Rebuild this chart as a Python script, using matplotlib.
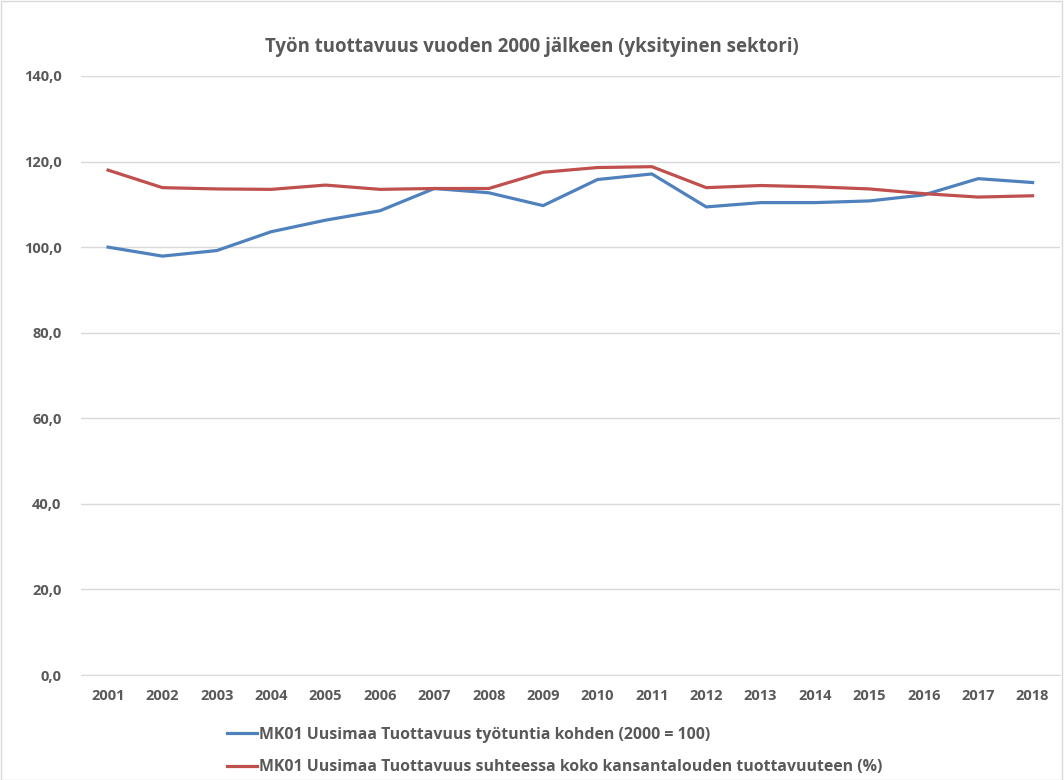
import matplotlib
matplotlib.use("Agg")
import matplotlib.pyplot as plt
from matplotlib.patches import Rectangle

plt.rcParams['font.family'] = ['Open Sans', 'DejaVu Sans']

years = [str(y) for y in range(2001, 2019)]
per_hour = [100.0, 97.9, 99.2, 103.6, 106.3, 108.5, 113.7, 112.7, 109.7,
            115.8, 117.1, 109.4, 110.4, 110.4, 110.8, 112.2, 116.0, 115.1]
vs_national = [118.0, 113.9, 113.6, 113.5, 114.5, 113.5, 113.7, 113.7, 117.5,
               118.6, 118.8, 113.9, 114.4, 114.1, 113.6, 112.5, 111.7, 112.0]
labels = ["MK01 Uusimaa Tuottavuus työtuntia kohden (2000 = 100)",
          "MK01 Uusimaa Tuottavuus suhteessa koko kansantalouden tuottavuuteen (%)"]

grey = "#595959"
fig = plt.figure(figsize=(10.64, 7.8), dpi=100)
ax = fig.add_axes([0.076, 0.1346, 0.920, 0.7680])

x = range(len(years))
ax.plot(x, per_hour, color="#4F81BD", lw=2.3, label=labels[0])
ax.plot(x, vs_national, color="#C0504D", lw=2.3, label=labels[1])

ax.set_xlim(-0.5, len(years) - 0.5)
ax.set_ylim(0, 140)
ax.set_yticks(range(0, 141, 20))
ax.set_yticklabels([f"{v},0" for v in range(0, 141, 20)])
ax.set_xticks(list(x))
ax.set_xticklabels(years)
ax.grid(axis="y", color="#D9D9D9", lw=1)
ax.set_axisbelow(True)
for s in ax.spines.values():
    s.set_visible(False)
ax.spines["bottom"].set_visible(True)
ax.spines["bottom"].set_color("#D9D9D9")
ax.tick_params(length=0, labelsize=10.5, labelcolor=grey, pad=10)
for t in ax.get_xticklabels() + ax.get_yticklabels():
    t.set_fontweight("bold")
ax.tick_params(axis="y", pad=14)

fig.text(0.5, 0.940, "Työn tuottavuus vuoden 2000 jälkeen (yksityinen sektori)",
         ha="center", va="center", fontsize=13.4, fontweight="bold", color=grey)

leg = fig.legend(loc="center left", bbox_to_anchor=(0.2, 0.037), frameon=False,
                 ncol=1, handlelength=1.9, handletextpad=0.1, labelspacing=1.05,
                 prop={"size": 11.4, "weight": "bold"})
for t in leg.get_texts():
    t.set_color(grey)

fig.patches.append(Rectangle((0.0005, 0.0005), 0.998, 0.998, transform=fig.transFigure,
                             fill=False, edgecolor="#D9D9D9", lw=1))

fig.savefig("out.png", dpi=100)
